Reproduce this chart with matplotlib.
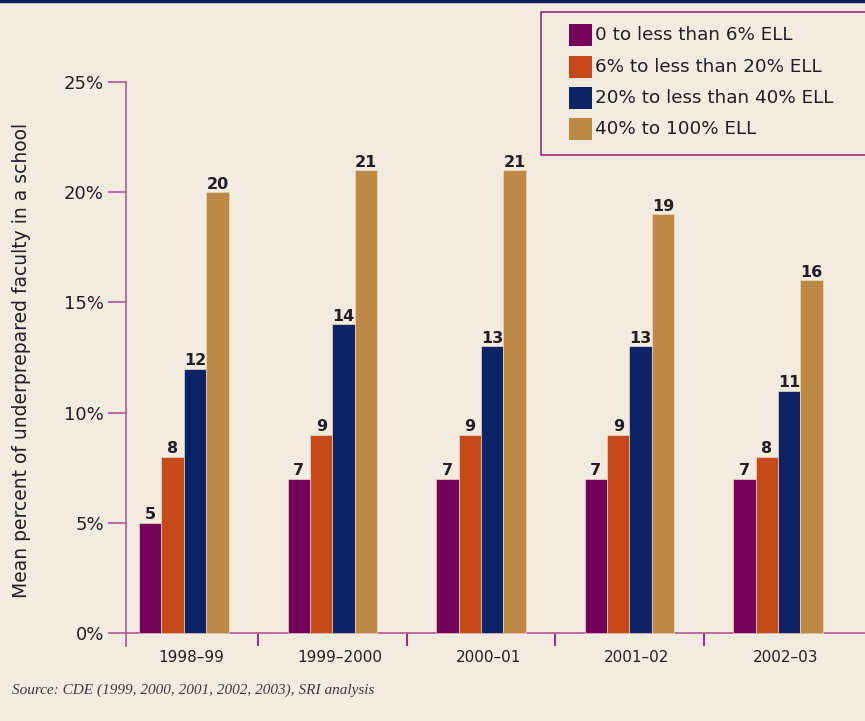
import numpy as np
import matplotlib.pyplot as plt
from matplotlib.patches import Rectangle
from matplotlib.lines import Line2D

years = ['1998\u201399', '1999\u20132000', '2000\u201301', '2001\u201302', '2002\u201303']
series = ['0 to less than 6% ELL', '6% to less than 20% ELL',
          '20% to less than 40% ELL', '40% to 100% ELL']
values = [
    [5, 7, 7, 7, 7],
    [8, 9, 9, 9, 8],
    [12, 14, 13, 13, 11],
    [20, 21, 21, 19, 16],
]
colors = ['#74005A', '#C6491A', '#0E2266', '#BD8A45']
yticks = [0, 5, 10, 15, 20, 25]

bg = '#F4EBE0'
axis_col = '#B0649A'
W, H = 865, 721

fig = plt.figure(figsize=(8.65, 7.21), dpi=100, facecolor=bg)
ax = fig.add_axes([126 / W, 1 - 646 / H, 1 - 126 / W, (646 - 82) / H])
ax.set_facecolor(bg)

x = np.arange(len(years))
w = 0.151
for i, (vals, c) in enumerate(zip(values, colors)):
    xs = x + (i - 1.5) * w
    ax.bar(xs, vals, width=w, color=c, edgecolor='#E9D9C6', linewidth=0.5, zorder=3)
    for xi, v in zip(xs, vals):
        ax.text(xi, v + 0.16, str(v), ha='center', va='baseline',
                fontsize=11.5, fontweight='bold', color='#231F20')

# y range: bottom slightly below 0 so spine/ticks hang below axis
ymin = -25 * 13 / (633 - 82)
ax.set_ylim(ymin, 25)
ax.set_xlim(-0.39, 4.586)

for s in ['top', 'right']:
    ax.spines[s].set_visible(False)
ax.spines['left'].set_color(axis_col)
ax.spines['left'].set_linewidth(1.3)
ax.spines['bottom'].set_position(('data', 0))
ax.spines['bottom'].set_color(axis_col)
ax.spines['bottom'].set_linewidth(1.3)

ax.set_yticks(yticks)
ax.set_yticklabels([f'{t}%' for t in yticks], fontsize=13, color='#231F20')
ax.tick_params(axis='y', length=13, width=1.3, color=axis_col, pad=3)

# category boundary ticks below the axis
ax.set_xticks([0.5, 1.5, 2.5, 3.5])
ax.set_xticklabels([])
ax.tick_params(axis='x', length=9.4, width=1.3, color='#8E1F72', direction='out')
for xi, lab in zip(x, years):
    ax.text(xi + 0.05, -0.75, lab, ha='center', va='top', fontsize=11, color='#231F20')

fig.text(22 / W, 1 - 360 / H, 'Mean percent of underprepared faculty in a school',
         fontsize=13.5, color='#231F20', rotation=90, ha='center', va='center')

# legend box, drawn by hand
fig.add_artist(Rectangle((541 / W, 1 - 155 / H), 400 / W, 143 / H, transform=fig.transFigure,
                         facecolor=bg, edgecolor='#9B2A7E', linewidth=1.2))
row_y = [35, 67, 98, 129]
for ry, c, lab in zip(row_y, colors, series):
    fig.add_artist(Rectangle((569 / W, 1 - (ry + 11) / H), 23 / W, 22 / H,
                             transform=fig.transFigure, facecolor=c, edgecolor='none'))
    fig.text(595 / W, 1 - ry / H, lab, fontsize=13.2, color='#231F20', va='center')

# top rule
fig.add_artist(Line2D([0, 1], [1 - 1 / H, 1 - 1 / H], color='#0E1E5A', linewidth=2.5))

fig.text(12 / W, 1 - 690 / H, 'Source: CDE (1999, 2000, 2001, 2002, 2003), SRI analysis',
         fontsize=11, style='italic', family='Liberation Serif', color='#3A3A3A', va='center')

plt.savefig('out.png', dpi=100, facecolor=bg)
